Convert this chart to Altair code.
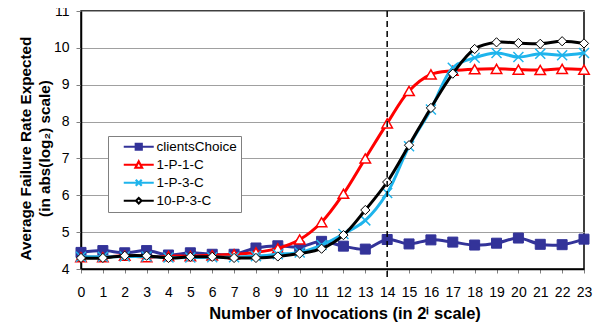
import altair as alt
import pandas as pd

# ---- data ----
invocations = list(range(24))
series_names = ["clientsChoice", "1-P-1-C", "1-P-3-C", "10-P-3-C"]
clients_choice = [4.45, 4.50, 4.44, 4.50, 4.38, 4.44, 4.40, 4.40, 4.57, 4.63, 4.60, 4.75,
                  4.62, 4.54, 4.80, 4.68, 4.79, 4.73, 4.65, 4.70, 4.84, 4.67, 4.66, 4.81]
p1_c1 = [4.32, 4.32, 4.36, 4.32, 4.35, 4.35, 4.37, 4.40, 4.45, 4.56, 4.80, 5.27,
         6.04, 7.00, 7.95, 8.83, 9.28, 9.38, 9.42, 9.43, 9.41, 9.40, 9.43, 9.41]
p1_c3 = [4.33, 4.33, 4.34, 4.34, 4.31, 4.31, 4.32, 4.32, 4.35, 4.40, 4.45, 4.65,
         4.95, 5.32, 6.06, 7.33, 8.33, 9.46, 9.73, 9.86, 9.75, 9.84, 9.80, 9.86]
p10_c3 = [4.30, 4.30, 4.36, 4.36, 4.30, 4.33, 4.33, 4.30, 4.30, 4.34, 4.42, 4.55,
          4.92, 5.60, 6.36, 7.36, 8.37, 9.30, 9.97, 10.15, 10.13, 10.11, 10.18, 10.12]
marker_line_at = [14]
y_ticks = [4, 5, 6, 7, 8, 9, 10, 11]

colors = ["#333399", "#FF0000", "#1EB4EC", "#000000"]
fills = ["#333399", "#FFFFFF", "#1EB4EC", "#FFFFFF"]

values = [clients_choice, p1_c1, p1_c3, p10_c3]
rows = []
for name, vals in zip(series_names, values):
    for xi, v in zip(invocations, vals):
        rows.append({"x": xi, "v": v, "s": name})
df = pd.DataFrame(rows)

W, H = 503, 258
FONT = "Liberation Sans"

xscale = alt.Scale(domain=[0, 23], nice=False, zero=False)
yscale = alt.Scale(domain=[4, 11], nice=False, zero=False)

xaxis = alt.Axis(values=invocations, tickSize=4, tickColor="#808080", labelFontSize=14,
                 labelPadding=12, labelFont=FONT, labelColor="black", labelFlush=False,
                 title="Number of Invocations (in 2ⁱ scale)", titleFontSize=16.5,
                 titleFont=FONT, titleFontWeight="bold", titleColor="black",
                 titlePadding=6, titleX=W / 2 + 12, grid=False,
                 domainColor="black", domainWidth=1.5)
yaxis = alt.Axis(values=y_ticks, tickSize=5, tickColor="#808080", labelFontSize=14,
                 labelPadding=7, labelFont=FONT, labelColor="black",
                 title=["Average Failure Rate Expected", "(in abs(log₂) scale)"],
                 titleFontSize=15.3, titleFont=FONT, titleFontWeight="bold",
                 titleColor="black", titlePadding=1, titleLineHeight=19, titleY=H / 2 + 8,
                 grid=True, gridColor="#A0A0A0", gridWidth=1,
                 domainColor="black", domainWidth=1.5)

X = alt.X("x:Q", scale=xscale, axis=xaxis)
Y = alt.Y("v:Q", scale=yscale, axis=yaxis)

point_specs = [
    dict(shape="square", size=100, filled=True, fill="#333399", stroke="#333399", strokeWidth=1),
    dict(shape="triangle-up", size=110, filled=False, fill="white", stroke="#FF0000", strokeWidth=1.5),
    dict(shape="M-1,-1L1,1M-1,1L1,-1", size=100, filled=False, stroke="#1EB4EC", strokeWidth=1.5),
    dict(shape="diamond", size=85, filled=False, fill="white", stroke="#000000", strokeWidth=1),
]

layers = []
for i, name in enumerate(series_names):
    base = alt.Chart(df).transform_filter(alt.datum.s == name)
    line = base.mark_line(interpolate="catmull-rom", strokeWidth=3, color=colors[i]).encode(x=X, y=Y)
    pts = base.mark_point(opacity=1, **point_specs[i]).encode(x=X, y=Y)
    layers += [line, pts]

rule = alt.Chart(pd.DataFrame({"x": marker_line_at})).mark_rule(
    color="black", strokeDash=[6, 4], strokeWidth=1.5
).encode(x=X, y=alt.value(0), y2=alt.value(H + 8))

legend_paths = [
    "M-5,0H5M-1,-1H1V1H-1Z",
    "M-5,0H-0.55M0.55,0H5M0,-1.1L1.1,1H-1.1Z",
    "M-5,0H5M-1,-1L1,1M-1,1L1,-1",
    "M-5,0H-0.9M0.9,0H5M0,-0.9L0.9,0L0,0.9L-0.9,0Z",
]
pad = "\u2003\u2003"
leg = alt.Legend(title=None, orient="none", legendX=27, legendY=125, fillColor="white",
                 strokeColor="#808080", padding=4, symbolSize=36,
                 symbolStrokeWidth=2.2, symbolOffset=20, labelOffset=11,
                 labelFontSize=13.5, labelFont=FONT, labelColor="black", rowPadding=2,
                 symbolOpacity=1, labelExpr=f"datum.label + '{pad}'")
legend_layer = alt.Chart(df).transform_filter("false").mark_point(opacity=1, filled=True, size=36).encode(
    x=X, y=Y,
    shape=alt.Shape("s:N", scale=alt.Scale(domain=series_names, range=legend_paths), legend=leg),
    stroke=alt.Stroke("s:N", scale=alt.Scale(domain=series_names, range=colors), legend=leg),
    fill=alt.Fill("s:N", scale=alt.Scale(domain=series_names, range=fills), legend=leg),
)

chart = alt.layer(*layers, rule, legend_layer).properties(
    width=W, height=H,
    autosize=alt.AutoSizeParams(type="none"),
    padding={"left": 73, "top": 3, "right": 11, "bottom": 55},
).configure_view(stroke="black", strokeWidth=1.5)

chart.save("out.html", embed_options={"renderer": "svg", "actions": False})
